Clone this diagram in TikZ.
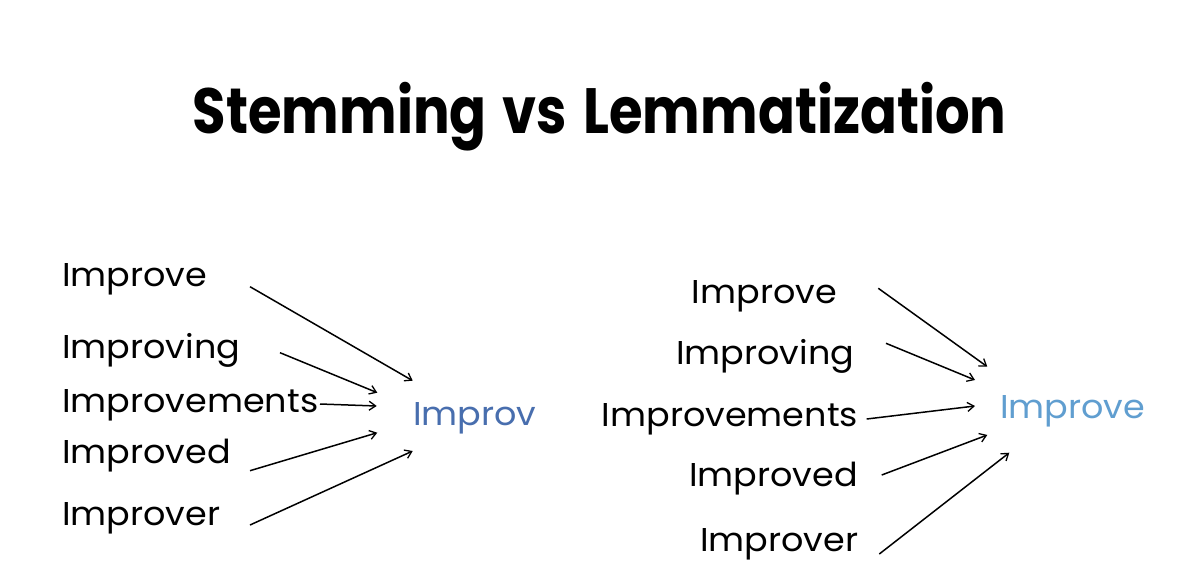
\documentclass[tikz,border=0pt]{standalone}
\usepackage{fontspec}
\setmainfont{Poppins}[FakeStretch=1.06]
\newfontfamily\titlefont{Poppins}[FakeStretch=0.85,WordSpace=1.4]
\usetikzlibrary{arrows.meta}
\definecolor{stemblue}{RGB}{72,110,174}
\definecolor{lemblue}{RGB}{96,158,208}
\tikzset{
  word/.style={anchor=base west, inner sep=0pt, font=\fontsize{33}{38}\selectfont, text=black},
  stemout/.style={word, text=stemblue},
  lemout/.style={word, text=lemblue},
  arr/.style={draw=black, line width=1.5pt, -{Straight Barb[length=6.5pt,width=9pt,line width=1.3pt]}},
}
\begin{document}
\begin{tikzpicture}[x=1pt,y=-1pt]
\useasboundingbox (0,0) rectangle (1200,587);
\fill[white] (0,0) rectangle (1200,587);
% title
\node[anchor=base west, inner sep=0pt, font=\titlefont\fontsize{64}{70}\selectfont\bfseries] (title) at (192.7,133.3) {Stemming vs Lemmatization};
% left: stemming
\node[word] (l1) at (62,286.7) {Improve};
\node[word] (l2) at (62,358) {Improving};
\node[word] (l3) at (62,412) {Improvements};
\node[word] (l4) at (62,463.5) {Improved};
\node[word] (l5) at (62,525) {Improver};
\node[stemout] (stem) at (413,425) {Improv};
\coordinate (ls1) at (250,286.7); \coordinate (le1) at (412.7,380.7);
\coordinate (ls2) at (280,352.7); \coordinate (le2) at (377.3,392.7);
\coordinate (ls3) at (320,404);   \coordinate (le3) at (376.7,406);
\coordinate (ls4) at (250,470.7); \coordinate (le4) at (377.3,432.7);
\coordinate (ls5) at (250,525);   \coordinate (le5) at (412.7,451);
\foreach \i in {1,...,5} {\draw[arr] (ls\i) -- (le\i);}
% right: lemmatization
\node[word] (r1) at (691.7,303.3) {Improve};
\node[word] (r2) at (676,364) {Improving};
\node[word] (r3) at (601.7,426.7) {Improvements};
\node[word] (r4) at (689,486.7) {Improved};
\node[word] (r5) at (700,551.7) {Improver};
\node[lemout] (lem) at (1000,418.3) {Improve};
\coordinate (rs1) at (878.3,288.3); \coordinate (re1) at (987.3,366.7);
\coordinate (rs2) at (886,343.3);   \coordinate (re2) at (975,380);
\coordinate (rs3) at (866.7,419);   \coordinate (re3) at (975,406);
\coordinate (rs4) at (881.7,475);   \coordinate (re4) at (987.3,435);
\coordinate (rs5) at (879.3,554);   \coordinate (re5) at (1009.3,452.7);
\foreach \i in {1,...,5} {\draw[arr] (rs\i) -- (re\i);}
\end{tikzpicture}
\end{document}
